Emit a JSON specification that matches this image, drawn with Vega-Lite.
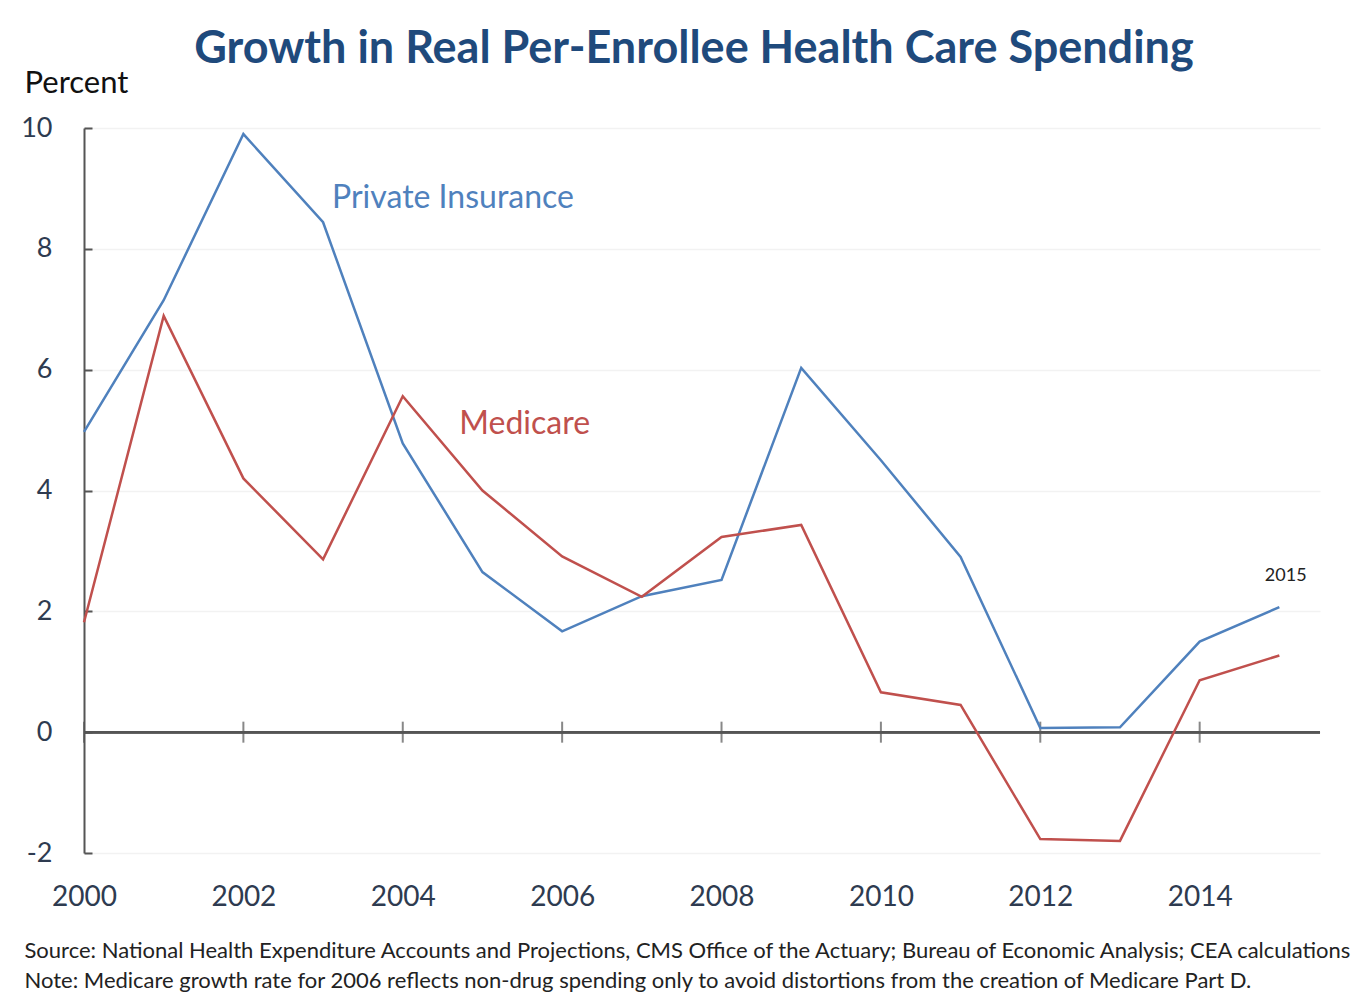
{
  "$schema": "https://vega.github.io/schema/vega-lite/v6.json",
  "autosize": {"type": "none"},
  "width": 1236,
  "height": 725,
  "padding": {"left": 84, "top": 128, "right": 43, "bottom": 150},
  "background": "white",
  "config": {"view": {"stroke": null}, "font": "Lato"},
  "title": {
    "text": "Growth in Real Per-Enrollee Health Care Spending",
    "font": "Lato",
    "fontSize": 45,
    "fontWeight": "bold",
    "color": "#1F4A7C",
    "anchor": "middle",
    "frame": "group",
    "offset": -5,
    "dx": -8
  },
  "datasets": {
    "series": [
      {"year": 2000, "series": "Private Insurance", "value": 4.97},
      {"year": 2001, "series": "Private Insurance", "value": 7.15},
      {"year": 2002, "series": "Private Insurance", "value": 9.9},
      {"year": 2003, "series": "Private Insurance", "value": 8.44},
      {"year": 2004, "series": "Private Insurance", "value": 4.78},
      {"year": 2005, "series": "Private Insurance", "value": 2.65},
      {"year": 2006, "series": "Private Insurance", "value": 1.67},
      {"year": 2007, "series": "Private Insurance", "value": 2.25},
      {"year": 2008, "series": "Private Insurance", "value": 2.52},
      {"year": 2009, "series": "Private Insurance", "value": 6.03},
      {"year": 2010, "series": "Private Insurance", "value": 4.5},
      {"year": 2011, "series": "Private Insurance", "value": 2.9},
      {"year": 2012, "series": "Private Insurance", "value": 0.07},
      {"year": 2013, "series": "Private Insurance", "value": 0.08},
      {"year": 2014, "series": "Private Insurance", "value": 1.5},
      {"year": 2015, "series": "Private Insurance", "value": 2.07},
      {"year": 2000, "series": "Medicare", "value": 1.82},
      {"year": 2001, "series": "Medicare", "value": 6.89},
      {"year": 2002, "series": "Medicare", "value": 4.2},
      {"year": 2003, "series": "Medicare", "value": 2.86},
      {"year": 2004, "series": "Medicare", "value": 5.56},
      {"year": 2005, "series": "Medicare", "value": 4.0},
      {"year": 2006, "series": "Medicare", "value": 2.91},
      {"year": 2007, "series": "Medicare", "value": 2.24},
      {"year": 2008, "series": "Medicare", "value": 3.23},
      {"year": 2009, "series": "Medicare", "value": 3.43},
      {"year": 2010, "series": "Medicare", "value": 0.66},
      {"year": 2011, "series": "Medicare", "value": 0.45},
      {"year": 2012, "series": "Medicare", "value": -1.77},
      {"year": 2013, "series": "Medicare", "value": -1.8},
      {"year": 2014, "series": "Medicare", "value": 0.86},
      {"year": 2015, "series": "Medicare", "value": 1.27}
    ],
    "ticks": [
      {"year": 2000}, {"year": 2002}, {"year": 2004}, {"year": 2006},
      {"year": 2008}, {"year": 2010}, {"year": 2012}, {"year": 2014}
    ],
    "labels": [
      {"year": 2004.63, "value": 8.84, "label": "Private Insurance", "series": "Private Insurance"},
      {"year": 2005.53, "value": 5.1, "label": "Medicare", "series": "Medicare"}
    ],
    "note": [
      {"year": 2015.08, "value": 2.58, "label": "2015"}
    ]
  },
  "layer": [
    {
      "data": {"name": "ticks"},
      "mark": {"type": "rule", "color": "#555555", "strokeWidth": 2},
      "encoding": {
        "y": {"datum": 0, "type": "quantitative"},
        "x": {"datum": 2000, "type": "quantitative"},
        "x2": {"datum": 2015.51}
      }
    },
    {
      "data": {"name": "ticks"},
      "mark": {"type": "tick", "orient": "vertical", "color": "#555555", "size": 21, "thickness": 2},
      "encoding": {
        "x": {"field": "year", "type": "quantitative"},
        "y": {"datum": 0, "type": "quantitative"}
      }
    },
    {
      "data": {"name": "series"},
      "mark": {"type": "line", "strokeWidth": 2.5, "clip": false},
      "encoding": {
        "x": {
          "field": "year",
          "type": "quantitative",
          "scale": {"domain": [2000, 2015.51], "nice": false, "zero": false},
          "axis": {
            "values": [2000, 2002, 2004, 2006, 2008, 2010, 2012, 2014],
            "format": "d",
            "domain": false,
            "ticks": false,
            "grid": false,
            "labelFont": "Lato",
            "labelFontSize": 28,
            "labelColor": "#2E3B50",
            "labelPadding": 30,
            "labelFlush": false,
            "title": [
              "Source:  National Health Expenditure Accounts and Projections, CMS Office of the Actuary; Bureau of Economic Analysis; CEA calculations",
              "Note: Medicare growth rate for 2006 reflects non-drug  spending only to avoid distortions from the creation of Medicare Part D."
            ],
            "titleFont": "Lato",
            "titleFontSize": 22,
            "titleFontWeight": "normal",
            "titleColor": "#222222",
            "titleAnchor": "start",
            "titleAlign": "left",
            "titleBaseline": "top",
            "titleX": -60,
            "titleY": 87,
            "titleLineHeight": 30
          }
        },
        "y": {
          "field": "value",
          "type": "quantitative",
          "scale": {"domain": [-2, 10], "nice": false, "zero": false},
          "axis": {
            "values": [-2, 0, 2, 4, 6, 8, 10],
            "labelExpr": "datum.value + ''",
            "domainColor": "#555555",
            "domainWidth": 2,
            "tickColor": "#555555",
            "tickWidth": 2,
            "tickSize": -8,
            "grid": true,
            "gridColor": "#F2F2F2",
            "gridWidth": 1.5,
            "labelFont": "Lato",
            "labelFontSize": 27,
            "labelColor": "#2E3B50",
            "labelPadding": 40,
            "title": "Percent",
            "titleFont": "Lato",
            "titleFontSize": 31,
            "titleFontWeight": "normal",
            "titleColor": "#111111",
            "titleAngle": 0,
            "titleAlign": "left",
            "titleBaseline": "middle",
            "titleX": -60,
            "titleY": -45
          }
        },
        "color": {
          "field": "series",
          "type": "nominal",
          "scale": {"domain": ["Private Insurance", "Medicare"], "range": ["#4F81BD", "#C0504D"]},
          "legend": null
        }
      }
    },
    {
      "data": {"name": "labels"},
      "mark": {"type": "text", "font": "Lato", "fontSize": 32, "align": "center", "baseline": "middle"},
      "encoding": {
        "x": {"field": "year", "type": "quantitative"},
        "y": {"field": "value", "type": "quantitative"},
        "text": {"field": "label"},
        "color": {"field": "series", "type": "nominal", "legend": null}
      }
    },
    {
      "data": {"name": "note"},
      "mark": {"type": "text", "font": "Lato", "fontSize": 18, "align": "center", "baseline": "middle", "color": "#222222", "clip": false},
      "encoding": {
        "x": {"field": "year", "type": "quantitative"},
        "y": {"field": "value", "type": "quantitative"},
        "text": {"field": "label"}
      }
    }
  ]
}
